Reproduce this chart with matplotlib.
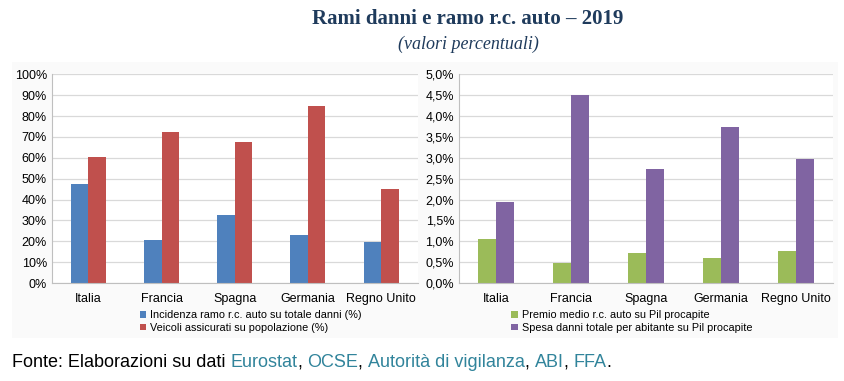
import numpy as np
import matplotlib.pyplot as plt
from matplotlib.ticker import FuncFormatter, MultipleLocator

plt.rcParams['font.family'] = ['Liberation Sans', 'DejaVu Sans']

# data
countries = ["Italia", "Francia", "Spagna", "Germania", "Regno Unito"]
incidenza_rc = [47.3, 20.5, 32.7, 23.0, 19.6]
veicoli_assicurati = [60.4, 72.2, 67.4, 84.7, 44.9]
premio_medio = [1.05, 0.48, 0.73, 0.61, 0.76]
spesa_danni = [1.93, 4.51, 2.73, 3.74, 2.97]

left_labels = ["Incidenza ramo r.c. auto su totale danni (%)",
               "Veicoli assicurati su popolazione (%)"]
right_labels = ["Premio medio r.c. auto su Pil procapite",
                "Spesa danni totale per abitante su Pil procapite"]

BLUE = "#4F81BD"
RED = "#C0504D"
GREEN = "#9BBB59"
PURPLE = "#8064A2"
GRID = "#D9D9D9"

fig = plt.figure(figsize=(8.44, 3.81), dpi=100)

# faint panel behind the charts
fig.patches.append(plt.Rectangle((12 / 844, 1 - 338 / 381), 826 / 844, 276 / 381,
                                 transform=fig.transFigure, facecolor="#FAFAFA",
                                 edgecolor="none", zorder=-10))

ax1 = fig.add_axes([51.7 / 844, 1 - 283 / 381, 366 / 844, 208.7 / 381])
ax2 = fig.add_axes([459 / 844, 1 - 283 / 381, 374 / 844, 208.7 / 381])

x = np.arange(len(countries))
w = 0.24


def style(ax):
    ax.set_facecolor("white")
    ax.grid(axis="y", color=GRID, linewidth=0.9)
    ax.set_axisbelow(True)
    for s in ["top", "right"]:
        ax.spines[s].set_visible(False)
    ax.spines["left"].set_color("#BFBFBF")
    ax.spines["bottom"].set_color("#BFBFBF")
    ax.tick_params(axis="both", length=0, labelsize=9, colors="black")
    ax.tick_params(axis="x", pad=7)
    ax.set_xticks(x)
    ax.set_xticklabels(countries)
    ax.set_xlim(-0.5, len(countries) - 0.5)


ax1.bar(x - w / 2, incidenza_rc, w, color=BLUE, label=left_labels[0])
ax1.bar(x + w / 2, veicoli_assicurati, w, color=RED, label=left_labels[1])
style(ax1)
ax1.set_ylim(0, 100)
ax1.yaxis.set_major_locator(MultipleLocator(10))
ax1.yaxis.set_major_formatter(FuncFormatter(lambda v, p: "{:d}%".format(int(round(v)))))
ax1.legend(loc="upper left", bbox_to_anchor=(0.24, -0.13), frameon=False, fontsize=7.8,
           handlelength=0.6, handleheight=0.6, handletextpad=0.4, labelspacing=0.25,
           borderpad=0, borderaxespad=0)

ax2.bar(x - w / 2, premio_medio, w, color=GREEN, label=right_labels[0])
ax2.bar(x + w / 2, spesa_danni, w, color=PURPLE, label=right_labels[1])
style(ax2)
ax2.set_ylim(0, 5)
ax2.yaxis.set_major_locator(MultipleLocator(0.5))
ax2.yaxis.set_major_formatter(FuncFormatter(lambda v, p: "{:.1f}%".format(v).replace(".", ",")))
ax2.legend(loc="upper left", bbox_to_anchor=(0.14, -0.13), frameon=False, fontsize=7.8,
           handlelength=0.6, handleheight=0.6, handletextpad=0.4, labelspacing=0.25,
           borderpad=0, borderaxespad=0)

# titles
fig.text(468 / 844, 1 - 19 / 381, "Rami danni e ramo r.c. auto \u2013 2019", ha="center",
         va="center", family="Liberation Serif", fontweight="bold", fontsize=15,
         color="#1F3B5C")
fig.text(468 / 844, 1 - 44 / 381, "(valori percentuali)", ha="center", va="center",
         family="Liberation Serif", style="italic", fontsize=13, color="#1F3B5C")

# source line with coloured names
pieces = [("Fonte: Elaborazioni su dati ", "black"), ("Eurostat", "#31849B"),
          (", ", "black"), ("OCSE", "#31849B"), (", ", "black"),
          ("Autorità di vigilanza", "#31849B"), (", ", "black"), ("ABI", "#31849B"),
          (", ", "black"), ("FFA", "#31849B"), (".", "black")]
renderer = fig.canvas.get_renderer()
xpos = 12
for txt, col in pieces:
    t = fig.text(xpos / 844, 1 - 367 / 381, txt, ha="left", va="baseline", fontsize=13,
                 color=col)
    bb = t.get_window_extent(renderer=renderer)
    xpos += bb.width

fig.savefig("out.png", dpi=100)
